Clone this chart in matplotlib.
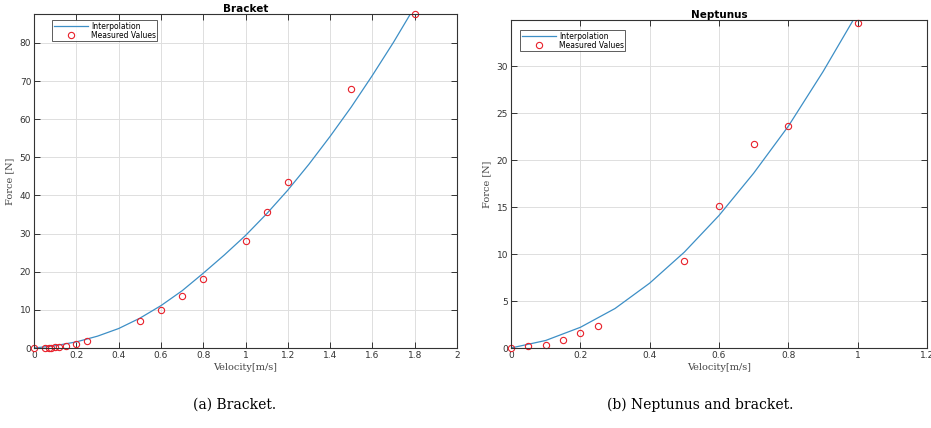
import matplotlib
matplotlib.use("Agg")
import matplotlib.pyplot as plt
from matplotlib.ticker import FuncFormatter, MultipleLocator

# ---- data ----
bracket_v = [0, 0.05, 0.07, 0.08, 0.10, 0.12, 0.15, 0.20, 0.25, 0.5, 0.6, 0.7, 0.8, 1.0, 1.1, 1.2, 1.5, 1.8]
bracket_f = [0, 0, 0, 0.1, 0.2, 0.3, 0.5, 1.0, 1.9, 7.2, 10.0, 13.6, 18.0, 28.0, 35.6, 43.5, 67.8, 87.6]
bracket_curve_v = [0, 0.1, 0.2, 0.3, 0.4, 0.5, 0.6, 0.7, 0.8, 0.9, 1.0, 1.1, 1.2, 1.3, 1.4, 1.5, 1.6, 1.7, 1.8]
bracket_curve_f = [0, 0.6, 1.6, 3.1, 5.1, 7.8, 11.1, 15.0, 19.6, 24.4, 29.5, 35.2, 41.4, 48.2, 55.5, 63.2, 71.5, 80.2, 89.5]

nept_v = [0, 0.05, 0.10, 0.15, 0.20, 0.25, 0.5, 0.6, 0.7, 0.8, 1.0]
nept_f = [0.05, 0.18, 0.3, 0.8, 1.6, 2.3, 9.3, 15.1, 21.7, 23.6, 34.6]
nept_curve_v = [0, 0.1, 0.2, 0.3, 0.4, 0.5, 0.6, 0.7, 0.8, 0.9, 1.0]
nept_curve_f = [0, 0.8, 2.2, 4.2, 6.9, 10.2, 14.1, 18.6, 23.6, 29.4, 35.7]

titles = ["Bracket", "Neptunus"]
captions = ["(a) Bracket.", "(b) Neptunus and bracket."]
xlabel = "Velocity[m/s]"
ylabel = "Force [N]"
legend_labels = ["Interpolation", "Measured Values"]

LINE_C = "#3d8fc6"
MARK_C = "#e8202a"

fig = plt.figure(figsize=(9.31, 4.28), dpi=100)
W, H = 931, 428

def make_axes(l, r, t, b):
    return fig.add_axes([l / W, (H - b) / H, (r - l) / W, (b - t) / H])

fmt = FuncFormatter(lambda v, p: "%g" % round(v, 6))

def style(ax, xmax, xstep, ymax, ystep, title, leg_xy):
    ax.set_xlim(0, xmax)
    ax.set_ylim(0, ymax)
    ax.xaxis.set_major_locator(MultipleLocator(xstep))
    ax.yaxis.set_major_locator(MultipleLocator(ystep))
    ax.xaxis.set_major_formatter(fmt)
    ax.yaxis.set_major_formatter(fmt)
    ax.grid(True, color="#dedede", linewidth=0.7)
    ax.set_axisbelow(True)
    ax.tick_params(direction="in", length=4, width=0.7, labelsize=6.5,
                   colors="#333333", top=True, right=True, pad=2)
    for s in ax.spines.values():
        s.set_linewidth(0.8)
        s.set_color("#333333")
    ax.set_title(title, fontsize=7.5, fontweight="bold", pad=1.5, family="DejaVu Sans")
    ax.set_xlabel(xlabel, fontsize=7, family="DejaVu Serif", color="#444444", labelpad=2)
    ax.set_ylabel(ylabel, fontsize=7, family="DejaVu Serif", color="#444444", labelpad=4)
    leg = ax.legend(loc="upper left", bbox_to_anchor=(leg_xy[0] / W, 1 - leg_xy[1] / H),
                    bbox_transform=fig.transFigure,
                    fontsize=5.5, frameon=True, fancybox=False,
                    edgecolor="#333333", borderpad=0.2, handlelength=4.5,
                    labelspacing=0.05, handletextpad=0.4, borderaxespad=0.0)
    leg.get_frame().set_linewidth(0.7)

ax1 = make_axes(34, 457, 14, 348)
ax1.plot(bracket_curve_v, bracket_curve_f, color=LINE_C, lw=0.9, label=legend_labels[0])
ax1.plot(bracket_v, bracket_f, "o", mfc="none", mec=MARK_C, ms=4.5, mew=0.8, label=legend_labels[1], clip_on=False)
style(ax1, 2, 0.2, 87.6, 10, titles[0], (52, 20))

ax2 = make_axes(511, 927, 20, 348)
ax2.plot(nept_curve_v, nept_curve_f, color=LINE_C, lw=0.9, label=legend_labels[0])
ax2.plot(nept_v, nept_f, "o", mfc="none", mec=MARK_C, ms=4.5, mew=0.8, label=legend_labels[1], clip_on=False)
style(ax2, 1.2, 0.2, 34.9, 5, titles[1], (520, 30))

fig.text(235 / W, 1 - 405 / H, captions[0], ha="center", va="center", fontsize=10, family="DejaVu Serif")
fig.text(700 / W, 1 - 405 / H, captions[1], ha="center", va="center", fontsize=10, family="DejaVu Serif")

fig.savefig("out.png", dpi=100)
